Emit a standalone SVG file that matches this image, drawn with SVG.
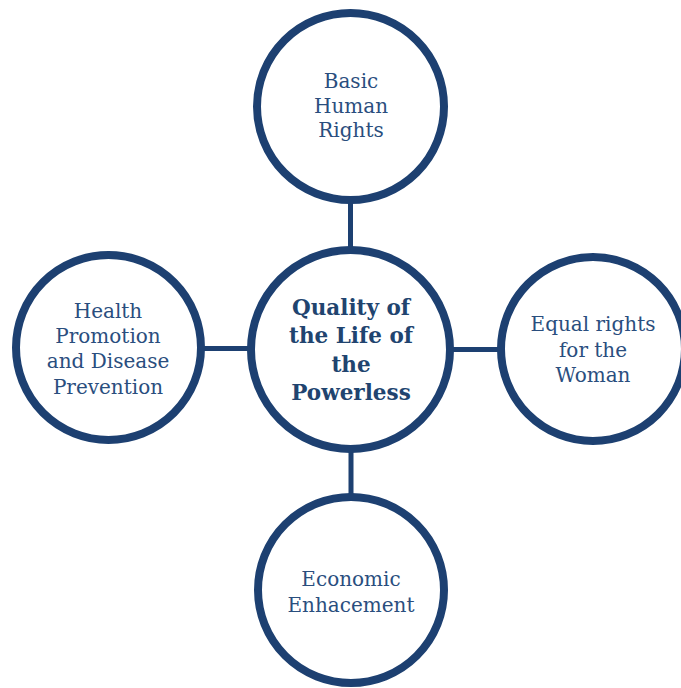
<svg xmlns="http://www.w3.org/2000/svg" width="681" height="688" viewBox="0 0 681 688">
  <style>
    .ring { fill: #ffffff; stroke: #1d4071; stroke-width: 8; }
    .link { stroke: #1d4071; stroke-width: 5; fill: none; }
    .label { font-family: "DejaVu Serif", "Liberation Serif", serif; font-size: 20px; fill: #2a4e7e; text-anchor: middle; }
    .hub { font-family: "DejaVu Serif", "Liberation Serif", serif; font-size: 21.5px; font-weight: bold; fill: #21446f; text-anchor: middle; }
  </style>
  <rect width="681" height="688" fill="#ffffff"/>

  <!-- spokes joining the hub to each outer circle -->
  <g id="connectors">
    <line class="link" x1="350.5" y1="106" x2="350.5" y2="350"/>
    <line class="link" x1="108" y1="348.5" x2="350" y2="348.5"/>
    <line class="link" x1="350" y1="349.5" x2="593" y2="349.5"/>
    <line class="link" x1="351" y1="350" x2="351" y2="590"/>
  </g>

  <g id="node-basic-rights">
    <circle class="ring" cx="350.5" cy="106.5" r="93.5"/>
    <text class="label" x="351" y="88">Basic</text>
    <text class="label" x="351" y="113">Human</text>
    <text class="label" x="351" y="137">Rights</text>
  </g>

  <g id="node-health">
    <circle class="ring" cx="108.5" cy="347.5" r="92.5"/>
    <text class="label" x="108" y="318">Health</text>
    <text class="label" x="108" y="343">Promotion</text>
    <text class="label" x="108" y="368">and Disease</text>
    <text class="label" x="108" y="394">Prevention</text>
  </g>

  <g id="node-equal-rights">
    <circle class="ring" cx="593" cy="349" r="92"/>
    <text class="label" x="593" y="331">Equal rights</text>
    <text class="label" x="593" y="357">for the</text>
    <text class="label" x="593" y="382">Woman</text>
  </g>

  <g id="node-economic">
    <circle class="ring" cx="351" cy="590" r="93"/>
    <text class="label" x="351" y="586">Economic</text>
    <text class="label" x="351" y="612">Enhacement</text>
  </g>

  <g id="node-hub">
    <circle class="ring" cx="350.5" cy="349.5" r="99.5"/>
    <text class="hub" x="351" y="315">Quality of</text>
    <text class="hub" x="351" y="343">the Life of</text>
    <text class="hub" x="351" y="372">the</text>
    <text class="hub" x="351" y="400">Powerless</text>
  </g>
</svg>
